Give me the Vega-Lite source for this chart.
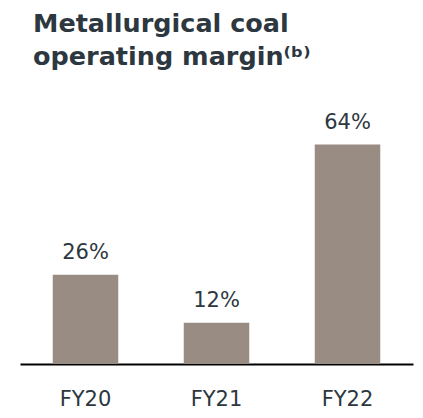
{
  "$schema": "https://vega.github.io/schema/vega-lite/v6.json",
  "autosize": "none",
  "width": 393,
  "height": 240,
  "padding": {"left": 20, "top": 124, "right": 10, "bottom": 54},
  "background": "white",
  "title": {
    "text": ["Metallurgical coal", "operating margin⁽ᵇ⁾"],
    "anchor": "start",
    "frame": "group",
    "font": "DejaVu Sans",
    "fontSize": 25.5,
    "fontWeight": "bold",
    "color": "#2d3740",
    "lineHeight": 33,
    "dx": 13,
    "offset": 41
  },
  "data": {
    "values": [
      {"year": "FY20", "margin": 26, "label": "26%"},
      {"year": "FY21", "margin": 12, "label": "12%"},
      {"year": "FY22", "margin": 64, "label": "64%"}
    ]
  },
  "encoding": {
    "x": {
      "field": "year",
      "type": "nominal",
      "sort": null,
      "scale": {"paddingInner": 0.5, "paddingOuter": 0.25},
      "axis": {
        "title": null,
        "labelAngle": 0,
        "ticks": false,
        "domainColor": "#000000",
        "domainWidth": 2,
        "labelFont": "DejaVu Sans",
        "labelFontSize": 21,
        "labelColor": "#2d3740",
        "labelBaseline": "alphabetic",
        "labelPadding": 41
      }
    },
    "y": {
      "field": "margin",
      "type": "quantitative",
      "scale": {"domain": [0, 70]},
      "axis": null
    }
  },
  "layer": [
    {"mark": {"type": "bar", "color": "#998c83"}},
    {
      "mark": {"type": "text", "baseline": "alphabetic", "dy": -16, "font": "DejaVu Sans", "fontSize": 21, "color": "#2d3740"},
      "encoding": {"text": {"field": "label"}}
    }
  ],
  "config": {"view": {"stroke": null}}
}
